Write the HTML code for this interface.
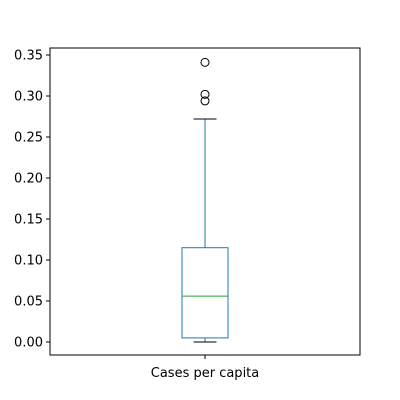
<!DOCTYPE html>
<html><head><meta charset="utf-8"><style>
html,body{margin:0;padding:0;background:#fff;}
svg{display:block;font-family:"DejaVu Sans","Liberation Sans",sans-serif;}
</style></head><body>
<svg id="chart" width="400" height="400" viewBox="0 0 400 400">
<rect x="50" y="48" width="310" height="307" fill="#fff" stroke="#000" stroke-width="1"/>
<g id="yaxis"></g>
<g id="marks"></g>
<text x="205" y="377" font-size="13" text-anchor="middle">Cases per capita</text>
</svg>
<script>
const categories = ["Cases per capita"];
const whiskerLow = [0.0];
const q1 = [0.005];
const median = [0.056];
const q3 = [0.115];
const whiskerHigh = [0.272];
const outliers = [[0.341, 0.302, 0.294]];
const yTicks = [0, 0.05, 0.10, 0.15, 0.20, 0.25, 0.30, 0.35];
const yTickLabels = ["0.00","0.05","0.10","0.15","0.20","0.25","0.30","0.35"];

const NS = "http://www.w3.org/2000/svg";
function y(v){ return 342 - v * 820; }
function mk(tag, attrs, parent){
  const e = document.createElementNS(NS, tag);
  for (const k in attrs) e.setAttribute(k, attrs[k]);
  parent.appendChild(e); return e;
}
const ya = document.getElementById('yaxis');
yTicks.forEach((t, i) => {
  const l = mk('line', {x1:46, x2:50, y1:y(t), y2:y(t), stroke:'#000'}, ya);
  
  
  const tx = mk('text', {x:43, y:y(t)+4.5, 'font-size':13, 'text-anchor':'end'}, ya);
  tx.textContent = yTickLabels[i];
  
  
});
const g = document.getElementById('marks');
categories.forEach((c, i) => {
  const cx = 205, hw = 23, cw = 11.5;
  const xt = mk('line', {x1:cx, x2:cx, y1:355, y2:359, stroke:'#000'}, g);
  
  
  const box = mk('rect', {x:cx-hw, y:y(q3[i]), width:hw*2, height:y(q1[i])-y(q3[i]), fill:'none', stroke:'#1f77b4'}, g);
  
  
  const wl = mk('line', {x1:cx, x2:cx, y1:y(q1[i]), y2:y(whiskerLow[i]), stroke:'#1f77b4'}, g);
  
  
  const wh = mk('line', {x1:cx, x2:cx, y1:y(q3[i]), y2:y(whiskerHigh[i]), stroke:'#1f77b4'}, g);
  
  
  const cl = mk('line', {x1:cx-cw, x2:cx+cw, y1:y(whiskerLow[i]), y2:y(whiskerLow[i]), stroke:'#000'}, g);
  
  
  const ch = mk('line', {x1:cx-cw, x2:cx+cw, y1:y(whiskerHigh[i]), y2:y(whiskerHigh[i]), stroke:'#000'}, g);
  
  
  const md = mk('line', {x1:cx-hw, x2:cx+hw, y1:y(median[i]), y2:y(median[i]), stroke:'#2ca02c'}, g);
  
  
  outliers[i].forEach(o => {
    const p = mk('circle', {cx:cx, cy:y(o), r:4, fill:'none', stroke:'#000'}, g);
    
    
  });
});
</script>
</body></html>
